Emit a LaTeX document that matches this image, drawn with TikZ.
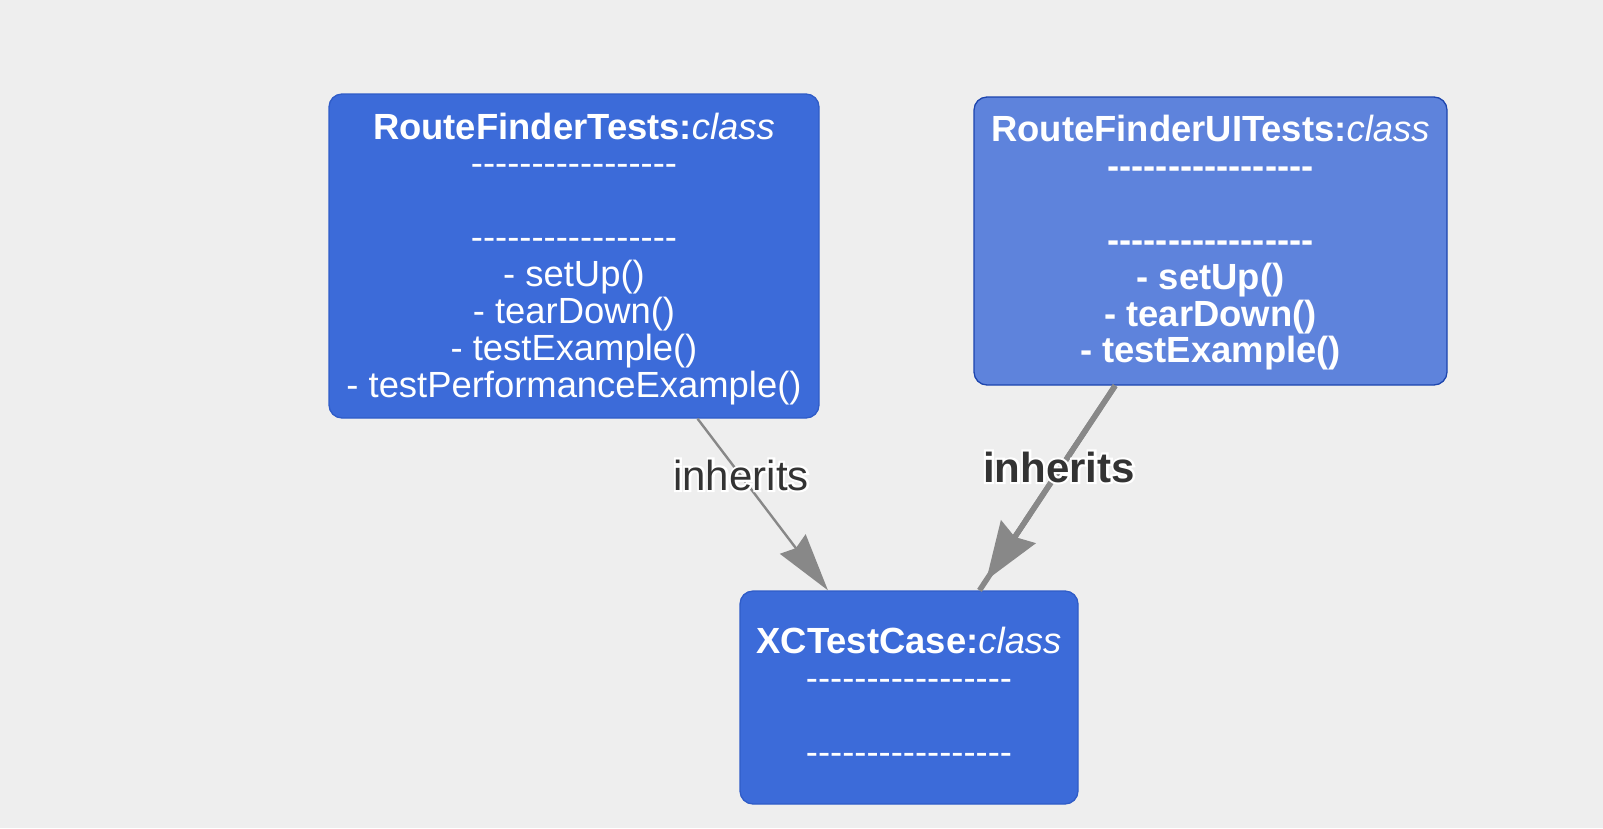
\documentclass[tikz,border=0pt]{standalone}
\usepackage{fontspec}
\setmainfont{Liberation Sans}
\newfontfamily\halofont{Liberation Sans}[FakeBold=10, BoldFeatures={FakeBold=10}]
\usetikzlibrary{arrows.meta}
\definecolor{bg}{HTML}{EEEEEE}
\definecolor{boxfill}{HTML}{3C6BD9}
\definecolor{boxline}{HTML}{2F5CC8}
\definecolor{boxfillb}{HTML}{5E83DC}
\definecolor{boxlineb}{HTML}{1D45AE}
\definecolor{edgegray}{HTML}{888888}
\definecolor{labelgray}{HTML}{333333}
\newcommand\hyp{-\kern0pt}
\newcommand\dashrow{\hyp\hyp\hyp\hyp\hyp\hyp\hyp\hyp\hyp\hyp\hyp\hyp\hyp\hyp\hyp\hyp-}
\newcommand\haloed[1]{\rlap{\textcolor{white}{\halofont #1}}#1}
\tikzset{
  classbox/.style={draw=boxline, fill=boxfill, line width=1.3pt, rounded corners=13pt,
    inner sep=0pt, align=center, text=white,
    font={\fontsize{36.4}{36.9}\selectfont}},
  classboxb/.style={classbox, draw=boxlineb, fill=boxfillb},
  edgelbl/.style={anchor=base, inner sep=0pt, text=labelgray, font={\fontsize{42}{46}\selectfont}},
}
\begin{document}
\begin{tikzpicture}[x=1pt, y=-1pt]
\fill[bg] (0,0) rectangle (1603,828);
\useasboundingbox (0,0) rectangle (1603,828);

\node[classbox, minimum width=490pt, minimum height=324pt] (b1) at (574,256)
  {\rule{0pt}{32pt}\textbf{RouteFinderTests:}\textit{class}\\ \dashrow\\ \mbox{}\\ \dashrow\\
   - setUp()\\ - tearDown()\\ - testExample()\\ - testPerformanceExample()};

\node[classboxb, minimum width=473pt, minimum height=288pt] (b2) at (1210.5,241)
  {\rule{0pt}{30pt}\textbf{RouteFinderUITests:}\textit{class}\\ \textbf{\dashrow}\\ \mbox{}\\ \textbf{\dashrow}\\
   \textbf{- setUp()}\\ \textbf{- tearDown()}\\ \textbf{- testExample()}};

\node[classbox, minimum width=338pt, minimum height=213pt] (b3) at (909,697.5)
  {\textbf{XCTestCase:}\textit{class}\\ \dashrow\\ \mbox{}\\ \dashrow\rule[-4pt]{0pt}{0pt}};

\draw[edgegray, line width=2.4pt, -{Stealth[length=58pt, width=32pt, inset=5pt]}] (b1) -- (b3);
\draw[edgegray, line width=5.5pt] (b2) -- (b3);
\draw[edgegray, line width=5.5pt, shorten >=12pt, -{Stealth[length=58pt, width=41pt, inset=6pt]}] (b2) -- (b3);

\node[edgelbl] (l1) at (741,490) {\haloed{inherits}};
\node[edgelbl] (l2) at (1059,482) {\bfseries\haloed{inherits}};
\end{tikzpicture}
\end{document}
